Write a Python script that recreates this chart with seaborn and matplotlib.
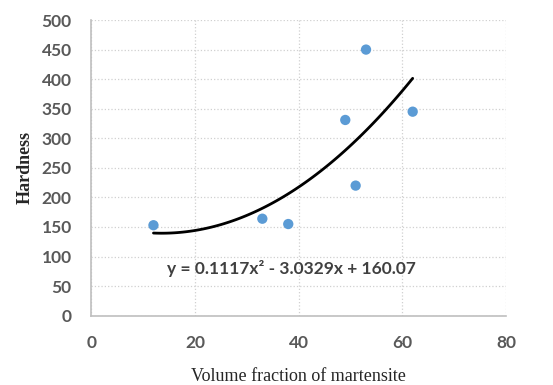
import numpy as np
import pandas as pd
import seaborn as sns
import matplotlib.pyplot as plt

# data
martensite = [12, 33, 38, 49, 51, 53, 62]
hardness = [153, 164, 155, 331, 220, 450, 345]
fit_coeffs = [0.1117, -3.0329, 160.07]  # from the trendline label
fit_range = [12, 62]

df = pd.DataFrame({'Volume': martensite, 'Hardness': hardness})
fit_x = np.linspace(fit_range[0], fit_range[1], 100)
fit_df = pd.DataFrame({'Volume': fit_x, 'Hardness': np.polyval(fit_coeffs, fit_x)})

sns.set_style('white')
plt.rcParams['font.family'] = ['Lato', 'DejaVu Sans']

fig = plt.figure(figsize=(5.53, 3.85), dpi=100)
ax = fig.add_axes([0.165, 0.18, 0.75, 0.768])

sns.lineplot(x='Volume', y='Hardness', data=fit_df, ax=ax, color='black', linewidth=2)
sns.scatterplot(x='Volume', y='Hardness', data=df, ax=ax, color='#5b9bd5',
                s=55, edgecolor='none', zorder=3)

ax.set_xlim(0, 80)
ax.set_ylim(0, 500)
ax.set_xticks(range(0, 81, 20))
ax.set_yticks(range(0, 501, 50))
ax.grid(True, color='#d0d0d0', linestyle=':', linewidth=0.9)
ax.set_axisbelow(True)
for side in ['top', 'right']:
    ax.spines[side].set_visible(False)
for side in ['left', 'bottom']:
    ax.spines[side].set_color('#bfbfbf')
    ax.spines[side].set_linewidth(1.2)

ax.tick_params(axis='both', length=0, labelsize=12.5, labelcolor='#595959')
ax.tick_params(axis='x', pad=14)
ax.tick_params(axis='y', pad=14)
for lbl in ax.get_xticklabels() + ax.get_yticklabels():
    lbl.set_fontweight('bold')

ax.set_xlabel('Volume fraction of martensite', family='Liberation Serif',
              fontsize=13, labelpad=12)
ax.set_ylabel('Hardness', family='Liberation Serif', fontsize=13,
              fontweight='bold', labelpad=6)

ax.text(38.6, 79, 'y = 0.1117x² - 3.0329x + 160.07', ha='center', va='center',
        fontsize=12.5, fontweight='bold', color='#404040')

fig.savefig('out.png', dpi=100)
